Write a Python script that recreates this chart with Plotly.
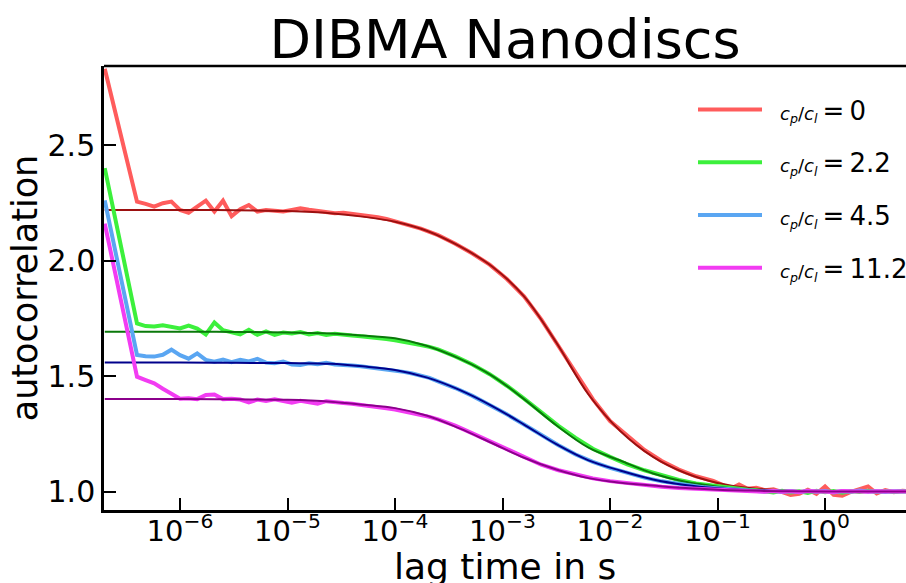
import plotly.graph_objects as go

# ---------------- text ----------------
title_text = "DIBMA Nanodiscs"
x_label = "lag time in s"
y_label = "autocorrelation"
ratio_values = ["0", "2.2", "4.5", "11.2"]
ratio_prefix = ("\u2002<span style='font-size:18px'><i>c</i><sub><i>p</i></sub>/"
                "<i>c</i><sub><i>l</i></sub></span>\u2009=\u2009")
series_labels = [ratio_prefix + v for v in ratio_values]
x_tick_values = [1e-6, 1e-5, 1e-4, 1e-3, 1e-2, 1e-1, 1e0]
x_tick_labels = ["10<sup>\u22126</sup>", "10<sup>\u22125</sup>", "10<sup>\u22124</sup>",
                 "10<sup>\u22123</sup>", "10<sup>\u22122</sup>", "10<sup>\u22121</sup>",
                 "10<sup>0</sup>"]
y_tick_values = [1.0, 1.5, 2.0, 2.5]
y_tick_labels = ["1.0", "1.5", "2.0", "2.5"]

# ---------------- measured data (log10 of lag time in s) ----------------
data_log_tau = [
    -6.70, -6.40,
    -6.32, -6.24, -6.16, -6.08, -6.00, -5.92, -5.84, -5.76, -5.68, -5.60,
    -5.52, -5.44, -5.36, -5.28, -5.20, -5.12, -5.04, -4.96, -4.88, -4.80,
    -4.72, -4.64, -4.56, -4.48, -4.40, -4.32, -4.24, -4.16, -4.08, -4.00,
    -3.92, -3.84, -3.76, -3.68,
    -3.60, -3.44, -3.28, -3.12, -2.96, -2.80, -2.64, -2.48, -2.32, -2.16,
    -2.00, -1.84, -1.68, -1.52, -1.36, -1.20,
    -1.12, -1.04, -0.96, -0.88, -0.80, -0.72, -0.64, -0.56, -0.48, -0.40,
    -0.32, -0.24, -0.16, -0.08, 0.00, 0.08, 0.16, 0.24, 0.32, 0.40,
    0.48, 0.56, 0.64, 0.72, 0.80,
]
data_cp0 = [
    2.830, 2.255,
    2.245, 2.233, 2.248, 2.255, 2.219, 2.207, 2.233, 2.259, 2.212, 2.259,
    2.192, 2.222, 2.240, 2.212, 2.219, 2.215, 2.212, 2.219, 2.226, 2.220,
    2.214, 2.211, 2.205, 2.207, 2.203, 2.199, 2.193, 2.187, 2.180, 2.170,
    2.160, 2.150, 2.138, 2.124,
    2.110, 2.073, 2.030, 1.982, 1.920, 1.845, 1.745, 1.630, 1.515, 1.400,
    1.305, 1.240, 1.180, 1.132, 1.095, 1.066,
    1.055, 1.046, 1.030, 1.012, 1.030, 1.012, 1.016, 1.006, 1.010, 0.996,
    0.985, 0.990, 1.008, 0.990, 1.022, 0.986, 0.982, 0.998, 1.010, 1.022,
    0.992, 1.006, 0.997, 1.003, 1.000,
]
data_cp2_2 = [
    2.400, 1.728,
    1.716, 1.714, 1.720, 1.712, 1.706, 1.718, 1.705, 1.680, 1.732, 1.698,
    1.690, 1.680, 1.700, 1.678, 1.693, 1.678, 1.688, 1.684, 1.690, 1.680,
    1.686, 1.678, 1.683, 1.677, 1.675, 1.672, 1.669, 1.665, 1.660, 1.655,
    1.649, 1.642, 1.634, 1.626,
    1.615, 1.585, 1.550, 1.508, 1.458, 1.402, 1.343, 1.284, 1.232, 1.185,
    1.150, 1.118, 1.092, 1.070, 1.050, 1.035,
    1.030, 1.024, 1.019, 1.014, 1.011, 1.008, 1.006, 1.003, 0.996, 1.003,
    0.996, 1.001, 0.994, 1.003, 0.997, 1.002, 0.995, 1.002, 0.998, 1.003,
    0.998, 1.002, 0.998, 1.001, 1.000,
]
data_cp4_5 = [
    2.260, 1.591,
    1.586, 1.584, 1.592, 1.614, 1.590, 1.575, 1.598, 1.570, 1.562, 1.571,
    1.560, 1.570, 1.563, 1.574, 1.558, 1.555, 1.563, 1.550, 1.548, 1.555,
    1.551, 1.557, 1.550, 1.549, 1.546, 1.542, 1.538, 1.534, 1.530, 1.525,
    1.518, 1.511, 1.502, 1.492,
    1.477, 1.448, 1.414, 1.376, 1.334, 1.290, 1.244, 1.200, 1.160, 1.128,
    1.102, 1.079, 1.060, 1.044, 1.032, 1.022,
    1.018, 1.015, 1.012, 1.009, 1.007, 1.005, 1.003, 1.000, 1.003, 0.998,
    1.002, 0.997, 1.003, 0.999, 1.002, 0.996, 1.002, 0.999, 1.004, 0.999,
    1.001, 0.998, 1.001, 1.000, 1.000,
]
data_cp11_2 = [
    2.160, 1.497,
    1.482, 1.468, 1.445, 1.424, 1.402, 1.404, 1.400, 1.418, 1.420, 1.400,
    1.402, 1.398, 1.386, 1.398, 1.392, 1.399, 1.392, 1.384, 1.393, 1.388,
    1.380, 1.391, 1.385, 1.383, 1.380, 1.376, 1.371, 1.366, 1.360, 1.355,
    1.348, 1.341, 1.333, 1.323,
    1.312, 1.285, 1.252, 1.218, 1.183, 1.147, 1.116, 1.092, 1.073, 1.057,
    1.045, 1.036, 1.028, 1.021, 1.015, 1.011,
    1.009, 1.007, 1.006, 1.004, 1.003, 1.002, 1.001, 0.999, 1.002, 0.999,
    1.001, 0.998, 1.002, 1.000, 1.001, 0.998, 1.002, 1.000, 1.001, 0.999,
    1.001, 1.000, 1.000, 1.000, 1.000,
]

# ---------------- fitted curves ----------------
fit_log_tau = [-6.70, -6.00, -5.50, -5.00, -4.60, -4.30, -4.00, -3.70, -3.40, -3.10,
               -2.80, -2.50, -2.20, -1.90, -1.60, -1.30, -1.00, -0.70, -0.40, 0.00, 0.85]
fit_cp0 = [2.219, 2.219, 2.218, 2.214, 2.205, 2.190, 2.168, 2.128, 2.062, 1.975,
           1.845, 1.645, 1.420, 1.260, 1.150, 1.080, 1.037, 1.015, 1.005, 1.000, 1.000]
fit_cp2_2 = [1.692, 1.692, 1.691, 1.688, 1.684, 1.675, 1.663, 1.630, 1.575, 1.502,
             1.400, 1.287, 1.190, 1.133, 1.078, 1.042, 1.021, 1.008, 1.003, 1.000, 1.000]
fit_cp4_5 = [1.558, 1.558, 1.557, 1.556, 1.553, 1.542, 1.526, 1.493, 1.440, 1.371,
             1.290, 1.205, 1.135, 1.090, 1.052, 1.028, 1.014, 1.006, 1.002, 1.000, 1.000]
fit_cp11_2 = [1.400, 1.400, 1.399, 1.397, 1.389, 1.376, 1.361, 1.328, 1.273, 1.210,
              1.146, 1.095, 1.058, 1.038, 1.026, 1.015, 1.008, 1.004, 1.001, 1.000, 1.000]

data_colors = ["#ff5c5c", "#3cf03c", "#5aa6f2", "#f23cf2"]
fit_colors = ["#9c1010", "#0a780a", "#00008b", "#8b008b"]

data_series = [data_cp0, data_cp2_2, data_cp4_5, data_cp11_2]
fit_series = [fit_cp0, fit_cp2_2, fit_cp4_5, fit_cp11_2]

data_tau = [10 ** v for v in data_log_tau]
fit_tau = [10 ** v for v in fit_log_tau]

FONT = "DejaVu Sans"

fig = go.Figure()
for i in range(4):
    fig.add_trace(go.Scatter(
        x=data_tau, y=data_series[i], mode="lines", name=series_labels[i],
        legendgroup=f"g{i}", line=dict(color=data_colors[i], width=4),
    ))
    fig.add_trace(go.Scatter(
        x=fit_tau, y=fit_series[i], mode="lines", showlegend=False,
        legendgroup=f"g{i}",
        line=dict(color=fit_colors[i], width=2, shape="spline", smoothing=1.0),
    ))

W, H = 906, 583
L, R, T, B = 104, 0, 66, 73
PW, PH = W - L - R, H - T - B
fig.update_layout(
    width=W, height=H,
    margin=dict(l=L, r=R, t=T, b=B, pad=0, autoexpand=False),
    paper_bgcolor="white", plot_bgcolor="white",
    font=dict(family=FONT, color="black"),
    title=dict(text=title_text, font=dict(size=54, family=FONT, color="black"),
               x=0.5, xref="paper", xanchor="center",
               y=1 - 39 / H, yref="container", yanchor="middle"),
    legend=dict(x=(693 - L) / PW, xref="paper", y=(H - B - 86) / PH, yref="paper",
                xanchor="left", yanchor="top",
                bgcolor="rgba(0,0,0,0)", borderwidth=0,
                font=dict(size=26, family=FONT, color="black"),
                tracegroupgap=16, itemwidth=64),
    showlegend=True,
)
fig.update_xaxes(
    type="log", range=[-6.707, 0.753],
    showline=True, linecolor="black", linewidth=2.5, mirror=False,
    ticks="inside", ticklen=12, tickwidth=2, tickcolor="black",
    tickvals=x_tick_values, ticktext=x_tick_labels,
    tickfont=dict(size=29, family=FONT, color="black"), ticklabelstandoff=-7,
    showgrid=False, zeroline=False, automargin=False,
)
fig.update_yaxes(
    range=[0.92, 2.842],
    showline=True, linecolor="black", linewidth=2.5, mirror=False,
    ticks="inside", ticklen=12, tickwidth=2, tickcolor="black",
    tickvals=y_tick_values, ticktext=y_tick_labels,
    tickfont=dict(size=30, family=FONT, color="black"),
    showgrid=False, zeroline=False, automargin=False,
    title=dict(text=y_label, font=dict(size=35, family=FONT, color="black"), standoff=0),
)
# x-axis label (placed like the reference, partly cut by the bottom edge)
fig.add_annotation(text=x_label, xref="paper", yref="paper", x=0.5, y=(H - B - 544) / PH,
                   xanchor="center", yanchor="top", showarrow=False,
                   font=dict(size=36, family=FONT, color="black"))
# top spine
fig.add_shape(type="line", xref="paper", yref="paper", x0=0, x1=1, y0=1, y1=1,
              line=dict(color="black", width=2.5))

fig.write_html("out.html", config={"displayModeBar": False},
               post_script="document.body.style.margin='0';document.body.style.overflow='hidden';")
